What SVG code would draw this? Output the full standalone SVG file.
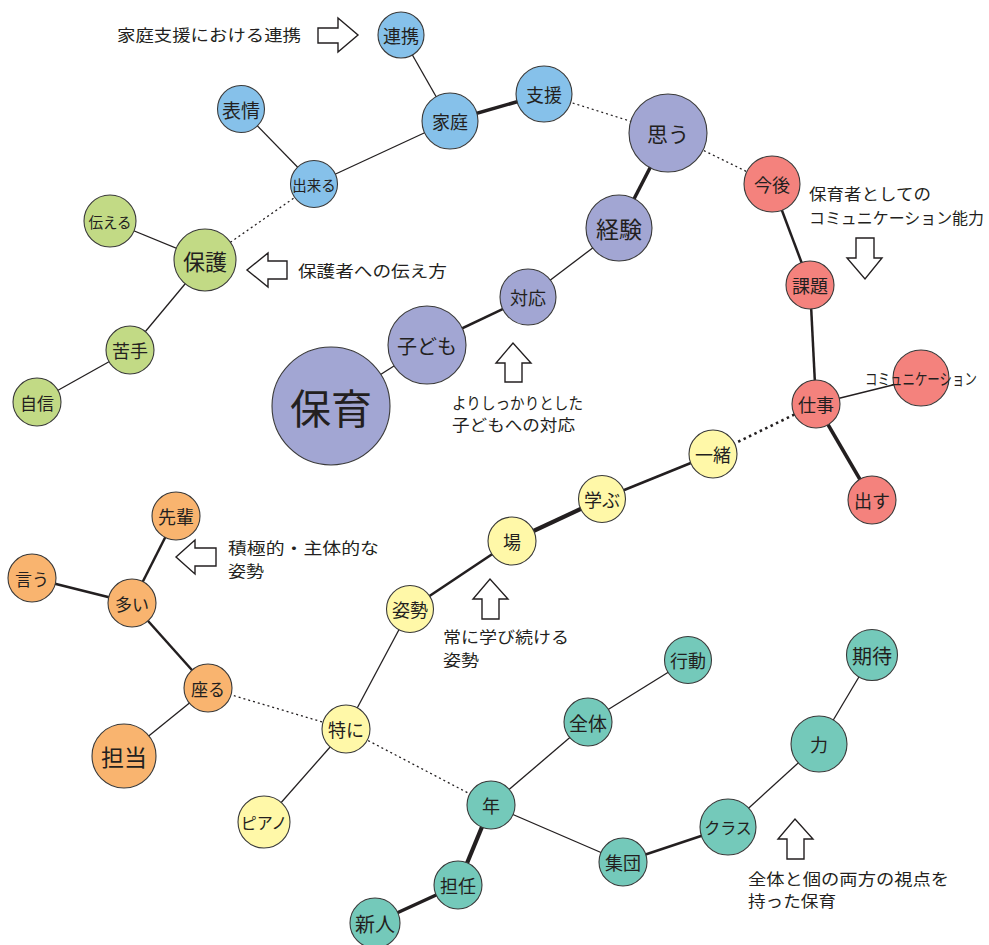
<svg xmlns="http://www.w3.org/2000/svg" width="989" height="945" viewBox="0 0 989 945">
<style>
text{font-family:"Noto Sans CJK JP","Noto Sans",sans-serif;fill:#231f20}
.n circle{stroke:#3a3a3a;stroke-width:1.1}
.n text{text-anchor:middle;dominant-baseline:central}
.b circle{fill:#86c1ea}.p circle{fill:#a2a6d3}.r circle{fill:#f4827d}.g circle{fill:#c2da85}
.o circle{fill:#f9b46f}.y circle{fill:#fff8a8}.t circle{fill:#74c9ba}
#edges line{stroke:#231f20;stroke-linecap:butt}
.e1{stroke-width:1.3}.e2{stroke-width:2.5}.e3{stroke-width:3.5}
.d{stroke-width:1.3;stroke-dasharray:2 3}.dd{stroke-width:2.6;stroke-dasharray:2.5 3.5}
.arw{fill:#fff;stroke:#231f20;stroke-width:1.4;stroke-linejoin:miter}
.note{font-size:16px}
</style>
<rect width="989" height="945" fill="#fff"/>
<g id="edges">
<line class="e1" x1="401" y1="35" x2="450" y2="121"/>
<line class="e1" x1="241" y1="109" x2="314" y2="184"/>
<line class="e1" x1="314" y1="184" x2="450" y2="121"/>
<line class="e3" x1="450" y1="121" x2="544" y2="94"/>
<line class="d" x1="544" y1="94" x2="668" y2="133"/>
<line class="d" x1="668" y1="133" x2="772" y2="184"/>
<line class="e3" x1="668" y1="133" x2="619" y2="228"/>
<line class="e1" x1="619" y1="228" x2="528" y2="297"/>
<line class="e2" x1="528" y1="297" x2="427" y2="345"/>
<line class="e1" x1="427" y1="345" x2="331" y2="406"/>
<line class="e2" x1="772" y1="184" x2="810" y2="285"/>
<line class="e2" x1="810" y1="285" x2="816" y2="404"/>
<line class="e1" x1="816" y1="404" x2="921" y2="378"/>
<line class="e3" x1="816" y1="404" x2="872" y2="500"/>
<line class="dd" x1="816" y1="404" x2="713" y2="454"/>
<line class="e2" x1="713" y1="454" x2="602" y2="499"/>
<line style="stroke-width:4.2" x1="602" y1="499" x2="512" y2="541"/>
<line class="e2" x1="512" y1="541" x2="410" y2="609"/>
<line class="e1" x1="410" y1="609" x2="346" y2="729"/>
<line class="e1" x1="346" y1="729" x2="264" y2="822"/>
<line class="d" x1="346" y1="729" x2="208" y2="688"/>
<line class="d" x1="346" y1="729" x2="491" y2="805"/>
<line class="e2" x1="208" y1="688" x2="132" y2="603"/>
<line class="e1" x1="208" y1="688" x2="124" y2="756"/>
<line class="e2" x1="132" y1="603" x2="176" y2="516"/>
<line class="e2" x1="132" y1="603" x2="32" y2="578"/>
<line class="d" x1="314" y1="184" x2="205" y2="260"/>
<line class="e1" x1="205" y1="260" x2="110" y2="221"/>
<line class="e1" x1="205" y1="260" x2="130" y2="350"/>
<line class="e1" x1="130" y1="350" x2="37" y2="402"/>
<line class="e1" x1="491" y1="805" x2="588" y2="722"/>
<line class="e1" x1="588" y1="722" x2="688" y2="660"/>
<line style="stroke-width:4.2" x1="491" y1="805" x2="458" y2="885"/>
<line class="e3" x1="458" y1="885" x2="375" y2="923"/>
<line class="e1" x1="491" y1="805" x2="623" y2="862"/>
<line class="e2" x1="623" y1="862" x2="728" y2="827"/>
<line class="e1" x1="728" y1="827" x2="819" y2="744"/>
<line class="e1" x1="819" y1="744" x2="872" y2="655"/>
</g>
<g id="renkei" class="n b"><circle cx="401" cy="35" r="23"/><text x="401" y="35" font-size="18">連携</text></g>
<g id="katei" class="n b"><circle cx="450" cy="121" r="28"/><text x="450" y="121" font-size="18">家庭</text></g>
<g id="hyoujou" class="n b"><circle cx="241" cy="109" r="23.5"/><text x="241" y="109" font-size="19">表情</text></g>
<g id="dekiru" class="n b"><circle cx="314" cy="184" r="23.5"/><text x="314" y="184" font-size="14.5">出来る</text></g>
<g id="shien" class="n b"><circle cx="544" cy="94" r="28"/><text x="544" y="94" font-size="18">支援</text></g>
<g id="omou" class="n p"><circle cx="668" cy="133" r="39"/><text x="668" y="133" font-size="21">思う</text></g>
<g id="keiken" class="n p"><circle cx="619" cy="228" r="33"/><text x="619" y="228" font-size="23">経験</text></g>
<g id="taiou" class="n p"><circle cx="528" cy="297" r="28"/><text x="528" y="297" font-size="18">対応</text></g>
<g id="kodomo" class="n p"><circle cx="427" cy="345" r="39"/><text x="427" y="345" font-size="20">子ども</text></g>
<g id="hoiku" class="n p"><circle cx="331" cy="406" r="59"/><text x="331" y="406" font-size="41">保育</text></g>
<g id="kongo" class="n r"><circle cx="772" cy="184" r="28"/><text x="772" y="184" font-size="18">今後</text></g>
<g id="kadai" class="n r"><circle cx="810" cy="285" r="24"/><text x="810" y="285" font-size="18">課題</text></g>
<g id="shigoto" class="n r"><circle cx="816" cy="404" r="24"/><text x="816" y="404" font-size="18">仕事</text></g>
<g id="comm" class="n r"><circle cx="921" cy="378" r="28"/><text x="921" y="378" font-size="16" textLength="112" lengthAdjust="spacingAndGlyphs">コミュニケーション</text></g>
<g id="dasu" class="n r"><circle cx="872" cy="500" r="24"/><text x="872" y="500" font-size="18">出す</text></g>
<g id="tsutaeru" class="n g"><circle cx="110" cy="221" r="26"/><text x="110" y="221" font-size="14.5">伝える</text></g>
<g id="hogo" class="n g"><circle cx="205" cy="260" r="31"/><text x="205" y="260" font-size="22">保護</text></g>
<g id="nigate" class="n g"><circle cx="130" cy="350" r="24"/><text x="130" y="350" font-size="18">苦手</text></g>
<g id="jishin" class="n g"><circle cx="37" cy="402" r="24"/><text x="37" y="402" font-size="17">自信</text></g>
<g id="senpai" class="n o"><circle cx="176" cy="516" r="24"/><text x="176" y="516" font-size="18">先輩</text></g>
<g id="iu" class="n o"><circle cx="32" cy="578" r="24"/><text x="32" y="578" font-size="17">言う</text></g>
<g id="ooi" class="n o"><circle cx="132" cy="603" r="24"/><text x="132" y="603" font-size="17">多い</text></g>
<g id="suwaru" class="n o"><circle cx="208" cy="688" r="24"/><text x="208" y="688" font-size="17">座る</text></g>
<g id="tantou" class="n o"><circle cx="124" cy="756" r="32"/><text x="124" y="756" font-size="23">担当</text></g>
<g id="tokuni" class="n y"><circle cx="346" cy="729" r="24"/><text x="346" y="729" font-size="18">特に</text></g>
<g id="shisei" class="n y"><circle cx="410" cy="609" r="23.5"/><text x="410" y="609" font-size="18">姿勢</text></g>
<g id="ba" class="n y"><circle cx="512" cy="541" r="24"/><text x="512" y="541" font-size="18">場</text></g>
<g id="manabu" class="n y"><circle cx="602" cy="499" r="23.5"/><text x="602" y="499" font-size="18">学ぶ</text></g>
<g id="issho" class="n y"><circle cx="713" cy="454" r="24"/><text x="713" y="454" font-size="18">一緒</text></g>
<g id="piano" class="n y"><circle cx="264" cy="822" r="26"/><text x="264" y="822" font-size="16">ピアノ</text></g>
<g id="nen" class="n t"><circle cx="491" cy="805" r="24"/><text x="491" y="805" font-size="18">年</text></g>
<g id="tannin" class="n t"><circle cx="458" cy="885" r="24"/><text x="458" y="885" font-size="18">担任</text></g>
<g id="shinjin" class="n t"><circle cx="375" cy="923" r="25"/><text x="375" y="923" font-size="20">新人</text></g>
<g id="zentai" class="n t"><circle cx="588" cy="722" r="24"/><text x="588" y="722" font-size="19">全体</text></g>
<g id="koudou" class="n t"><circle cx="688" cy="660" r="23.5"/><text x="688" y="660" font-size="18">行動</text></g>
<g id="shuudan" class="n t"><circle cx="623" cy="862" r="24"/><text x="623" y="862" font-size="18">集団</text></g>
<g id="class" class="n t"><circle cx="728" cy="827" r="28"/><text x="728" y="827" font-size="16">クラス</text></g>
<g id="chikara" class="n t"><circle cx="819" cy="744" r="28"/><text x="819" y="744" font-size="18">力</text></g>
<g id="kitai" class="n t"><circle cx="872" cy="655" r="25.5"/><text x="872" y="655" font-size="20">期待</text></g>
<g id="notes">
<polygon class="arw" points="318,28 338,28 338,18 358,35 338,52 338,43 318,43"/>
<text class="note" x="117" y="41" textLength="184" lengthAdjust="spacingAndGlyphs">家庭支援における連携</text>
<polygon class="arw" points="856,238 874,238 874,258 882,258 865,279 847,258 856,258"/>
<text class="note" x="809" y="200" textLength="122" lengthAdjust="spacingAndGlyphs">保育者としての</text>
<text class="note" x="809" y="224" textLength="175" lengthAdjust="spacingAndGlyphs">コミュニケーション能力</text>
<polygon class="arw" points="287,261 268,261 268,253 247,270 268,287 268,279 287,279"/>
<text class="note" x="298" y="277" textLength="149" lengthAdjust="spacingAndGlyphs">保護者への伝え方</text>
<polygon class="arw" points="505,382 522,382 522,363 531,363 513,343 496,363 505,363"/>
<text class="note" x="452" y="409" textLength="131" lengthAdjust="spacingAndGlyphs">よりしっかりとした</text>
<text class="note" x="452" y="431" textLength="123" lengthAdjust="spacingAndGlyphs">子どもへの対応</text>
<polygon class="arw" points="216,548 195,548 195,540 176,557 195,574 195,566 216,566"/>
<text class="note" x="228" y="554" textLength="151" lengthAdjust="spacingAndGlyphs">積極的・主体的な</text>
<text class="note" x="228" y="577" textLength="36" lengthAdjust="spacingAndGlyphs">姿勢</text>
<polygon class="arw" points="482,619 499,619 499,599 508,599 490,579 473,599 482,599"/>
<text class="note" x="443" y="643" textLength="126" lengthAdjust="spacingAndGlyphs">常に学び続ける</text>
<text class="note" x="443" y="666" textLength="36" lengthAdjust="spacingAndGlyphs">姿勢</text>
<polygon class="arw" points="787,859 804,859 804,839 813,839 795,819 778,839 787,839"/>
<text class="note" x="748" y="885" textLength="201" lengthAdjust="spacingAndGlyphs">全体と個の両方の視点を</text>
<text class="note" x="748" y="907" textLength="88" lengthAdjust="spacingAndGlyphs">持った保育</text>
</g>
</svg>
